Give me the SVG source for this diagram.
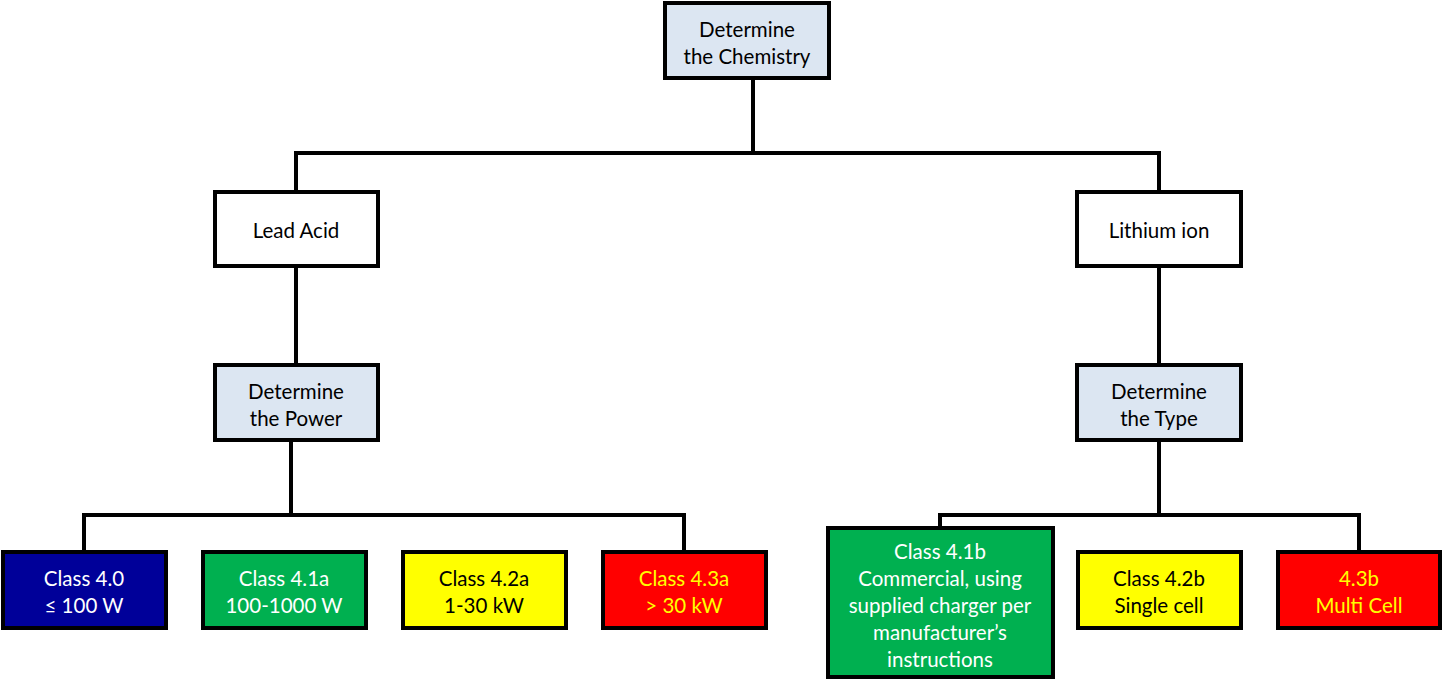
<svg xmlns="http://www.w3.org/2000/svg" width="1443" height="681" viewBox="0 0 1443 681">
<style>
text{font-family:Lato,"Open Sans","Liberation Sans",sans-serif;font-size:20.5px;text-anchor:middle}
.box{stroke:#000;stroke-width:4}
.lb{fill:#dce6f2}
.wh{fill:#fff}
.conn{fill:none;stroke:#000;stroke-width:4}
.k{fill:#000}.w{fill:#fff}.y{fill:#ffff00}
</style>
<rect width="1443" height="681" fill="#fff"/>
<g id="connectors" class="conn">
<path d="M753 78V153M296 192V153H1159V192"/>
<path d="M296 266V365"/>
<path d="M1159 266V365"/>
<path d="M291 440V515M84 552V515H684V552"/>
<path d="M1159 440V515M940 528V515H1359V552"/>
</g>
<g id="chem"><rect class="box lb" x="665" y="3" width="164" height="75"/><text class="k" x="747" y="37">Determine</text><text class="k" x="747" y="64">the Chemistry</text></g>
<g id="lead"><rect class="box wh" x="215" y="192" width="163" height="74"/><text class="k" x="296" y="238">Lead Acid</text></g>
<g id="lithium"><rect class="box wh" x="1077" y="192" width="164" height="74"/><text class="k" x="1159" y="238">Lithium ion</text></g>
<g id="power"><rect class="box lb" x="215" y="365" width="163" height="75"/><text class="k" x="296" y="399">Determine</text><text class="k" x="296" y="426">the Power</text></g>
<g id="type"><rect class="box lb" x="1077" y="365" width="164" height="75"/><text class="k" x="1159" y="399">Determine</text><text class="k" x="1159" y="426">the Type</text></g>
<g id="c40"><rect class="box" fill="#000099" x="3" y="552" width="163" height="76"/><text class="w" x="84" y="586">Class 4.0</text><text class="w" x="84" y="613">≤ 100 W</text></g>
<g id="c41a"><rect class="box" fill="#00b050" x="203" y="552" width="163" height="76"/><text class="w" x="284" y="586">Class 4.1a</text><text class="w" x="284" y="613">100-1000 W</text></g>
<g id="c42a"><rect class="box" fill="#ffff00" x="403" y="552" width="163" height="76"/><text class="k" x="484" y="586">Class 4.2a</text><text class="k" x="484" y="613">1-30 kW</text></g>
<g id="c43a"><rect class="box" fill="#ff0000" x="603" y="552" width="163" height="76"/><text class="y" x="684" y="586">Class 4.3a</text><text class="y" x="684" y="613">&gt; 30 kW</text></g>
<g id="c41b"><rect class="box" fill="#00b050" x="828" y="528" width="225" height="149"/><text class="w" x="940" y="559">Class 4.1b</text><text class="w" x="940" y="586">Commercial, using</text><text class="w" x="940" y="613">supplied charger per</text><text class="w" x="940" y="640">manufacturer’s</text><text class="w" x="940" y="667">instructions</text></g>
<g id="c42b"><rect class="box" fill="#ffff00" x="1078" y="552" width="163" height="76"/><text class="k" x="1159" y="586">Class 4.2b</text><text class="k" x="1159" y="613">Single cell</text></g>
<g id="c43b"><rect class="box" fill="#ff0000" x="1278" y="552" width="162" height="76"/><text class="y" x="1359" y="586">4.3b</text><text class="y" x="1359" y="613">Multi Cell</text></g>
</svg>
